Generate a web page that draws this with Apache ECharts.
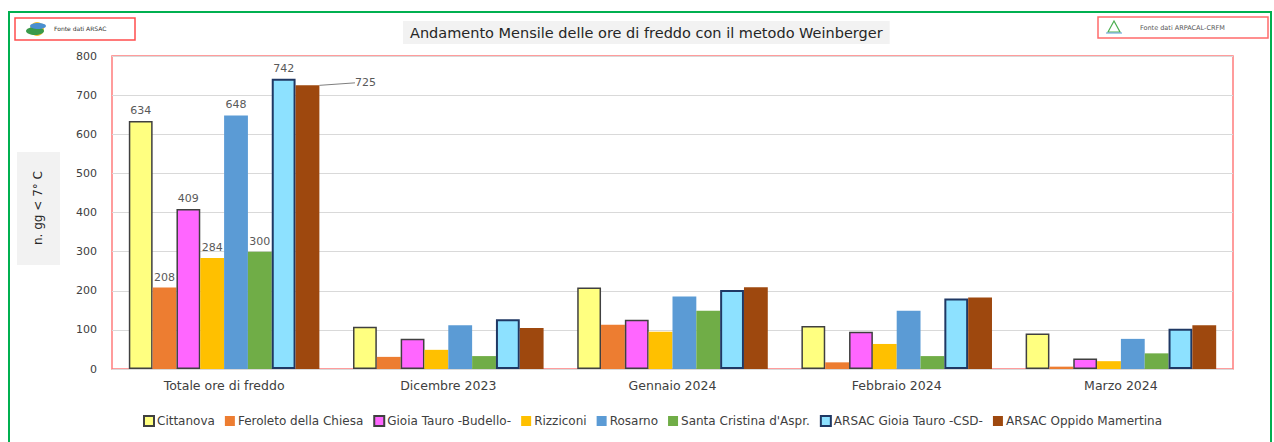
<!DOCTYPE html>
<html>
<head>
<meta charset="utf-8">
<script src="https://cdn.jsdelivr.net/npm/echarts@6/dist/echarts.min.js"></script>
<style>
  html, body { margin: 0; padding: 0; background: #fff; }
  #main { width: 1274px; height: 442px; }
</style>
</head>
<body>
<div id="main"></div>
<script>
// categorie e valori (ore di freddo, n. gg < 7 °C)
const categories = ['Totale ore di freddo', 'Dicembre 2023', 'Gennaio 2024', 'Febbraio 2024', 'Marzo 2024'];
const cittanova = [634, 108, 208, 110, 91];
const feroleto = [208, 31, 113, 17, 6];
const gioiaBudello = [409, 77, 126, 95, 27];
const rizziconi = [284, 49, 95, 64, 20];
const rosarno = [648, 112, 185, 149, 77];
const santaCristina = [300, 33, 149, 33, 40];
const arsacGioia = [742, 127, 202, 180, 103];
const arsacOppido = [725, 105, 209, 183, 112];
const yTicks = [0, 100, 200, 300, 400, 500, 600, 700, 800];

const FONT = 'DejaVu Sans';

const chart = echarts.init(document.getElementById('main'), null, { renderer: 'svg' });

// etichetta solo sul primo gruppo (totale)
const topLabel = {
    show: true,
    position: 'top',
    distance: 5,
    color: '#595959',
    fontSize: 11,
    fontFamily: FONT,
    formatter: p => p.dataIndex === 0 ? p.value : ''
};

function makeSeries(name, data, color, border) {
    const s = {
        name: name,
        type: 'bar',
        data: data,
        barGap: '0%',
        barCategoryGap: '15%',
        itemStyle: { color: color },
        label: topLabel
    };
    if (border) {
        s.itemStyle.borderColor = border.color;
        s.itemStyle.borderWidth = border.width;
    }
    return s;
}

const series = [
    makeSeries('Cittanova', cittanova, '#FFFF80', { color: '#404040', width: 1.5 }),
    makeSeries('Feroleto della Chiesa', feroleto, '#ED7D31'),
    makeSeries('Gioia Tauro -Budello-', gioiaBudello, '#FF66FF', { color: '#404040', width: 1.5 }),
    makeSeries('Rizziconi', rizziconi, '#FFC000'),
    makeSeries('Rosarno', rosarno, '#5B9BD5'),
    makeSeries("Santa Cristina d'Aspr.", santaCristina, '#70AD47'),
    makeSeries('ARSAC Gioia Tauro -CSD-', arsacGioia, '#8DE1FF', { color: '#1F3864', width: 2 }),
    makeSeries('ARSAC Oppido Mamertina', arsacOppido, '#9E480E')
];
// 725: etichetta spostata a destra con linea, solo sul totale
series[7].data = arsacOppido.map((v, i) => i === 0
    ? { value: v, label: { show: true }, labelLine: { show: true } }
    : { value: v, label: { show: false }, labelLine: { show: false } });
series[7].labelLayout = { dx: 58, dy: 8 };
series[7].labelLine = { show: false, lineStyle: { color: '#7f7f7f', width: 1 } };

const option = {
    backgroundColor: '#fff',
    animation: false,
    title: {
        text: 'Andamento Mensile delle ore di freddo con il metodo Weinberger',
        left: 403,
        top: 21,
        padding: [4, 7],
        backgroundColor: '#F2F2F2',
        textStyle: { fontFamily: FONT, fontSize: 14.5, fontWeight: 'normal', color: '#262626' }
    },
    legend: {
        bottom: 10,
        left: 138,
        itemWidth: 10,
        itemHeight: 10,
        itemGap: 10,
        icon: 'rect',
        textStyle: { fontFamily: FONT, fontSize: 12, color: '#404040', padding: [0, 0, 0, -2] }
    },
    grid: {
        left: 112,
        right: 41,
        top: 56,
        bottom: 73,
        show: true,
        borderColor: '#FF7C7C',
        borderWidth: 1.5
    },
    xAxis: {
        type: 'category',
        data: categories,
        axisLine: { show: false },
        axisTick: { show: false },
        axisLabel: { fontFamily: FONT, fontSize: 12.5, color: '#404040', margin: 10 }
    },
    yAxis: {
        type: 'value',
        min: yTicks[0],
        max: yTicks[yTicks.length - 1],
        interval: 100,
        axisLine: { show: false },
        axisTick: { show: false },
        axisLabel: { fontFamily: FONT, fontSize: 11, color: '#404040', margin: 15 },
        splitLine: { lineStyle: { color: '#D9D9D9', width: 1 } }
    },
    graphic: [
        // cornice verde esterna
        { type: 'rect', shape: { x: 9, y: 12, width: 1262, height: 440 }, style: { fill: 'none', stroke: '#00B050', lineWidth: 2 }, silent: true },
        // riquadro fonte ARSAC
        { type: 'rect', shape: { x: 15, y: 18, width: 120, height: 22 }, style: { fill: '#fff', stroke: '#FF4D4D', lineWidth: 1.5 } },
        { type: 'circle', shape: { cx: 37, cy: 29, r: 7 }, style: { fill: '#F2C230' } },
        { type: 'ellipse', shape: { cx: 35, cy: 31, rx: 9, ry: 4 }, style: { fill: '#3A9A4A' } },
        { type: 'ellipse', shape: { cx: 38, cy: 26, rx: 8, ry: 3 }, style: { fill: '#4A8FD0' } },
        { type: 'text', left: 54, top: 25, style: { text: 'Fonte dati ARSAC', fontFamily: FONT, fontSize: 6, fill: '#333' } },
        // riquadro fonte ARPACAL
        { type: 'rect', shape: { x: 1098, y: 17, width: 170, height: 21 }, style: { fill: '#fff', stroke: '#FF6B6B', lineWidth: 1.5 } },
        { type: 'polygon', shape: { points: [[1108, 32], [1114, 21], [1120, 32]] }, style: { fill: 'none', stroke: '#4CAF50', lineWidth: 1.2 } },
        { type: 'line', shape: { x1: 1106, y1: 33, x2: 1122, y2: 33 }, style: { stroke: '#5B9BD5', lineWidth: 1 } },
        { type: 'text', left: 1140, top: 24, style: { text: 'Fonte dati ARPACAL-CRFM', fontFamily: FONT, fontSize: 6.5, fill: '#555' } },
        // titolo asse y
        { type: 'rect', shape: { x: 17, y: 152, width: 43, height: 113 }, style: { fill: '#F2F2F2' } },
        {
            type: 'text', x: 38, y: 208, rotation: Math.PI / 2,
            style: { text: 'n. gg < 7° C', fontFamily: FONT, fontSize: 12, fill: '#262626', align: 'center', verticalAlign: 'middle' }
        }
    ],
    series: series
};

chart.setOption(option);

window.addEventListener('resize', function () {
    chart.resize();
});
</script>
</body>
</html>
